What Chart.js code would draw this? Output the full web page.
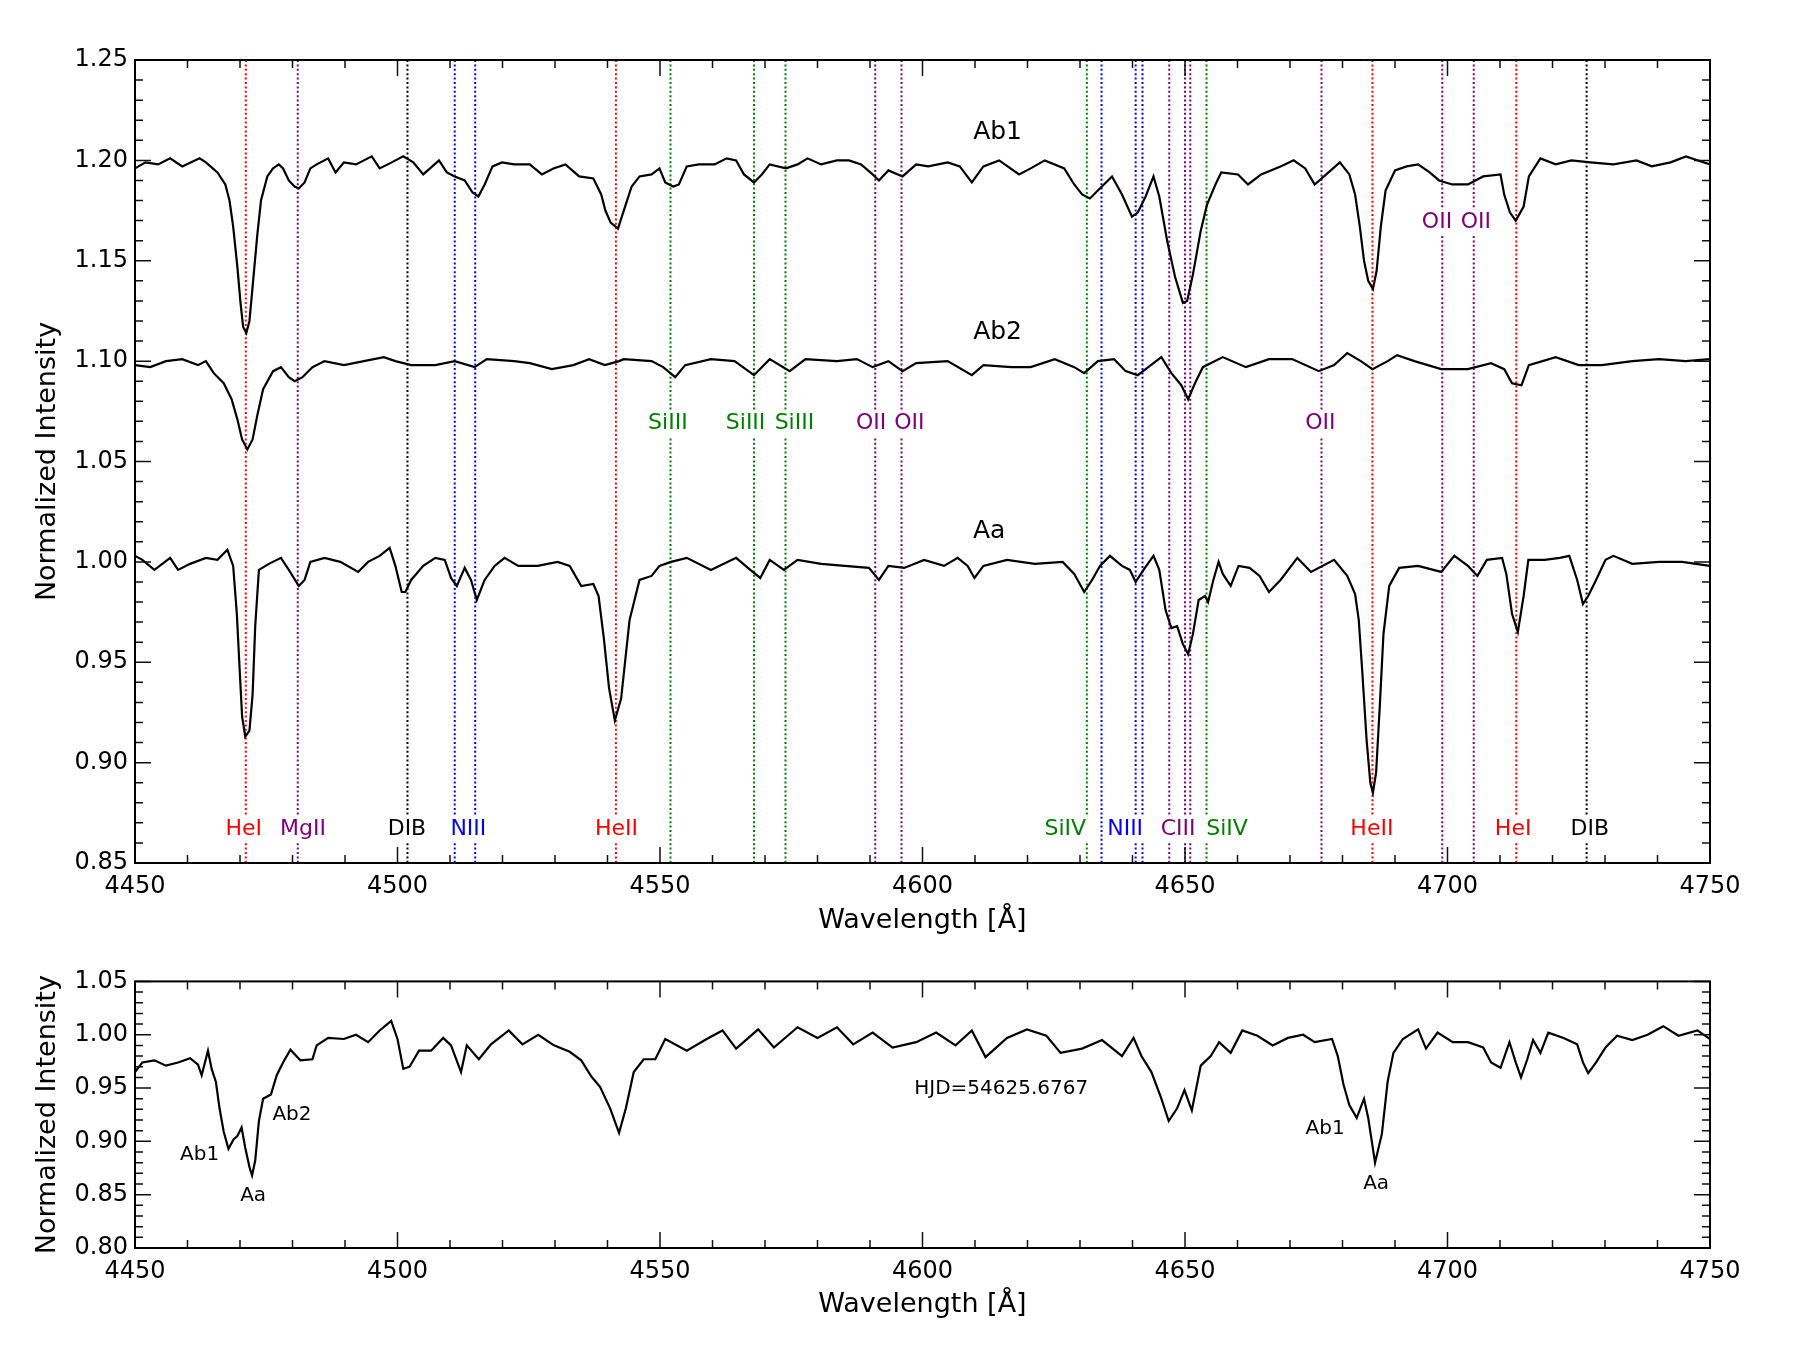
<!DOCTYPE html>
<html>
<head>
<meta charset="utf-8">
<title>Espectros</title>
<script src="https://cdn.jsdelivr.net/npm/chart.js@4.4.0/dist/chart.umd.min.js"></script>
<style>
  body { margin: 0; background: #fff; }
  #contenedor { position: relative; width: 1800px; height: 1350px; }
  canvas { position: absolute; left: 0; }
  #graficoSup { top: 0; }
  #graficoInf { top: 960px; }
</style>
</head>
<body>
<div id="contenedor">
  <canvas id="graficoSup" width="1800" height="960"></canvas>
  <canvas id="graficoInf" width="1800" height="390"></canvas>
</div>
<script>
// Espectro Ab1 (desplazado +0.2)
var ab1Wave = [4450.0, 4452.0, 4454.4, 4456.7, 4459.0, 4462.3, 4463.5, 4465.7, 4467.2, 4468.0, 4468.7, 4469.5, 4470.1, 4470.6, 4471.2, 4471.8, 4472.5, 4473.3, 4474.0, 4475.2,
  4476.3, 4477.4, 4478.2, 4479.3, 4480.4, 4481.2, 4482.3, 4483.4, 4484.6, 4486.8, 4488.2, 4489.8, 4492.1, 4495.1, 4496.6, 4498.9, 4501.1, 4503.0, 4504.9, 4507.9,
  4509.4, 4510.9, 4512.8, 4514.3, 4515.4, 4516.6, 4518.1, 4519.9, 4522.2, 4525.2, 4527.5, 4529.7, 4532.0, 4534.6, 4537.3, 4538.8, 4539.6, 4540.6, 4542.0, 4543.1,
  4544.6, 4546.1, 4548.4, 4549.9, 4551.0, 4552.5, 4553.6, 4555.1, 4557.4, 4560.4, 4562.7, 4564.5, 4566.0, 4567.9, 4569.4, 4570.9, 4574.0, 4576.2, 4578.1, 4580.7,
  4583.7, 4586.0, 4588.3, 4590.5, 4591.7, 4593.5, 4596.2, 4598.8, 4601.1, 4604.8, 4607.1, 4609.4, 4611.6, 4614.6, 4618.4, 4620.6, 4623.3, 4627.0, 4628.9, 4630.4,
  4631.9, 4633.4, 4636.1, 4638.0, 4639.9, 4641.0, 4642.5, 4644.0, 4645.1, 4646.6, 4648.1, 4649.6, 4650.4, 4651.5, 4653.0, 4654.2, 4655.8, 4656.9, 4660.1, 4662.0,
  4664.5, 4668.2, 4670.7, 4672.9, 4674.7, 4676.9, 4679.5, 4681.3, 4682.4, 4683.3, 4684.1, 4684.9, 4685.8, 4686.5, 4687.3, 4688.2, 4690.0, 4692.2, 4694.4, 4696.6,
  4698.4, 4700.9, 4703.9, 4706.8, 4710.1, 4710.8, 4711.9, 4713.0, 4714.5, 4715.5, 4717.7, 4720.6, 4723.6, 4727.2, 4731.6, 4736.0, 4738.9, 4742.5, 4745.4, 4750.0];
var ab1Flux = [1.196, 1.199, 1.198, 1.201, 1.197, 1.201, 1.199, 1.194, 1.188, 1.180, 1.167, 1.147, 1.129, 1.117, 1.114, 1.120, 1.140, 1.163, 1.180, 1.192,
  1.196, 1.198, 1.196, 1.190, 1.187, 1.186, 1.189, 1.196, 1.198, 1.201, 1.194, 1.199, 1.198, 1.202, 1.196, 1.199, 1.202, 1.199, 1.193, 1.200,
  1.194, 1.192, 1.190, 1.184, 1.182, 1.188, 1.197, 1.199, 1.198, 1.198, 1.193, 1.196, 1.198, 1.192, 1.191, 1.183, 1.175, 1.169, 1.166, 1.175,
  1.187, 1.192, 1.193, 1.196, 1.189, 1.187, 1.188, 1.197, 1.198, 1.198, 1.201, 1.200, 1.193, 1.189, 1.193, 1.198, 1.196, 1.198, 1.201, 1.198,
  1.200, 1.200, 1.198, 1.193, 1.190, 1.195, 1.192, 1.198, 1.197, 1.199, 1.197, 1.189, 1.197, 1.200, 1.193, 1.196, 1.200, 1.196, 1.188, 1.183,
  1.181, 1.185, 1.192, 1.183, 1.172, 1.174, 1.182, 1.192, 1.182, 1.160, 1.142, 1.129, 1.130, 1.143, 1.165, 1.178, 1.188, 1.194, 1.193, 1.188,
  1.193, 1.197, 1.200, 1.196, 1.188, 1.193, 1.199, 1.193, 1.183, 1.167, 1.150, 1.140, 1.136, 1.145, 1.167, 1.185, 1.195, 1.197, 1.198, 1.194,
  1.190, 1.188, 1.188, 1.192, 1.193, 1.183, 1.174, 1.170, 1.177, 1.192, 1.201, 1.198, 1.200, 1.199, 1.198, 1.200, 1.197, 1.199, 1.202, 1.198];

// Espectro Ab2 (desplazado +0.1)
var ab2Wave = [4450.0, 4452.9, 4455.9, 4459.0, 4462.0, 4463.5, 4465.0, 4466.9, 4468.4, 4469.5, 4470.4, 4471.4, 4472.4, 4473.3, 4474.4, 4476.3, 4477.8, 4479.3, 4480.4, 4481.9,
  4483.8, 4486.1, 4489.8, 4493.6, 4497.4, 4499.6, 4502.6, 4507.2, 4510.9, 4514.7, 4517.0, 4522.2, 4525.2, 4529.4, 4533.5, 4536.5, 4539.5, 4542.2, 4543.1, 4548.4,
  4550.6, 4552.9, 4554.8, 4559.7, 4564.2, 4567.9, 4570.9, 4574.7, 4577.7, 4583.7, 4587.5, 4590.5, 4593.5, 4596.2, 4598.8, 4604.8, 4609.4, 4611.6, 4616.9, 4620.6,
  4625.2, 4628.9, 4630.8, 4633.4, 4636.5, 4638.7, 4641.0, 4642.5, 4645.5, 4647.4, 4649.3, 4650.6, 4651.9, 4653.4, 4657.2, 4661.6, 4666.0, 4670.4, 4675.5, 4678.4,
  4680.9, 4683.5, 4685.7, 4688.6, 4690.4, 4693.7, 4698.8, 4703.9, 4708.3, 4710.8, 4712.3, 4714.1, 4715.5, 4720.6, 4725.0, 4729.4, 4735.2, 4740.3, 4745.4, 4750.0];
var ab2Flux = [1.098, 1.097, 1.100, 1.101, 1.098, 1.100, 1.094, 1.089, 1.081, 1.071, 1.061, 1.056, 1.061, 1.073, 1.086, 1.095, 1.097, 1.092, 1.090, 1.092,
  1.097, 1.100, 1.098, 1.100, 1.102, 1.100, 1.098, 1.098, 1.100, 1.097, 1.101, 1.100, 1.099, 1.096, 1.098, 1.101, 1.098, 1.100, 1.101, 1.100,
  1.097, 1.092, 1.098, 1.101, 1.100, 1.093, 1.101, 1.095, 1.101, 1.100, 1.101, 1.097, 1.100, 1.095, 1.099, 1.100, 1.093, 1.098, 1.097, 1.097,
  1.101, 1.097, 1.094, 1.100, 1.101, 1.095, 1.093, 1.096, 1.102, 1.094, 1.088, 1.081, 1.089, 1.097, 1.102, 1.097, 1.101, 1.101, 1.095, 1.098,
  1.104, 1.100, 1.096, 1.100, 1.103, 1.100, 1.096, 1.096, 1.099, 1.096, 1.089, 1.088, 1.098, 1.102, 1.098, 1.098, 1.100, 1.101, 1.100, 1.101];

// Espectro Aa
var aaWave = [4450.0, 4451.4, 4453.7, 4456.7, 4458.2, 4460.5, 4463.5, 4465.7, 4467.6, 4468.7, 4469.4, 4469.9, 4470.4, 4471.0, 4471.8, 4472.4, 4472.9, 4473.6, 4475.5, 4477.8,
  4479.3, 4481.2, 4482.3, 4483.4, 4486.1, 4489.1, 4492.5, 4494.4, 4496.6, 4498.5, 4499.6, 4500.8, 4501.5, 4502.6, 4504.9, 4507.2, 4509.0, 4510.2, 4511.3, 4512.8,
  4514.0, 4515.1, 4516.6, 4518.5, 4520.4, 4523.0, 4526.7, 4530.5, 4532.8, 4535.0, 4537.3, 4538.3, 4539.3, 4540.3, 4541.4, 4542.6, 4544.2, 4546.1, 4548.4, 4549.9,
  4552.1, 4555.1, 4559.7, 4564.5, 4567.2, 4569.1, 4570.9, 4573.6, 4576.2, 4580.7, 4585.2, 4589.8, 4591.7, 4593.5, 4596.5, 4600.3, 4604.1, 4606.7, 4608.6, 4609.9,
  4611.6, 4616.1, 4621.4, 4626.7, 4628.9, 4630.8, 4632.3, 4633.8, 4635.7, 4638.0, 4639.5, 4640.6, 4642.1, 4644.0, 4645.1, 4646.3, 4647.4, 4648.5, 4649.6, 4650.6,
  4651.5, 4652.6, 4653.8, 4654.4, 4655.4, 4656.4, 4657.2, 4658.7, 4660.2, 4662.3, 4664.2, 4666.0, 4668.2, 4671.4, 4674.0, 4678.4, 4680.9, 4682.4, 4683.1, 4683.8,
  4684.6, 4685.3, 4685.8, 4686.4, 4687.1, 4687.8, 4688.9, 4690.8, 4694.4, 4698.8, 4701.3, 4703.9, 4705.7, 4707.5, 4710.4, 4711.2, 4712.3, 4713.4, 4714.5, 4715.4,
  4718.5, 4721.4, 4723.2, 4724.7, 4725.8, 4726.8, 4728.3, 4730.1, 4731.6, 4735.2, 4740.3, 4744.7, 4750.0];
var aaFlux = [1.003, 1.001, 0.996, 1.002, 0.996, 0.999, 1.002, 1.001, 1.006, 0.998, 0.974, 0.948, 0.923, 0.913, 0.916, 0.934, 0.968, 0.996, 0.999, 1.002,
  0.996, 0.988, 0.991, 1.000, 1.002, 1.000, 0.995, 1.000, 1.003, 1.007, 0.998, 0.985, 0.985, 0.991, 0.998, 1.002, 1.001, 0.992, 0.988, 0.997,
  0.991, 0.981, 0.991, 0.998, 1.002, 0.998, 0.998, 1.000, 0.998, 0.988, 0.989, 0.983, 0.962, 0.937, 0.921, 0.932, 0.971, 0.991, 0.993, 0.998,
  1.000, 1.002, 0.996, 1.002, 0.996, 0.992, 1.001, 0.996, 1.001, 0.999, 0.998, 0.997, 0.991, 0.998, 0.997, 1.001, 0.998, 1.002, 0.998, 0.992,
  0.998, 1.001, 0.999, 1.000, 0.994, 0.985, 0.991, 0.998, 1.003, 0.998, 0.996, 0.990, 0.996, 1.003, 0.996, 0.976, 0.967, 0.968, 0.959, 0.954,
  0.964, 0.981, 0.983, 0.980, 0.991, 1.000, 0.994, 0.988, 0.998, 0.997, 0.993, 0.985, 0.991, 1.002, 0.995, 1.001, 0.993, 0.984, 0.971, 0.944,
  0.911, 0.890, 0.885, 0.895, 0.928, 0.964, 0.988, 0.997, 0.998, 0.995, 1.003, 0.998, 0.993, 1.001, 1.002, 0.994, 0.974, 0.965, 0.983, 1.001,
  1.001, 1.002, 1.003, 0.991, 0.979, 0.983, 0.991, 1.001, 1.003, 0.999, 1.000, 1.000, 0.998];

// Espectro observado HJD=54625.6767 (panel inferior)
var obsWave = [4450.0, 4451.4, 4453.7, 4455.9, 4458.2, 4460.5, 4462.0, 4462.7, 4463.9, 4464.6, 4465.4, 4466.1, 4466.9, 4467.8, 4468.8, 4469.5, 4470.3, 4471.0, 4471.8, 4472.3,
  4472.9, 4473.6, 4474.4, 4475.9, 4477.0, 4478.2, 4479.6, 4481.5, 4483.8, 4484.6, 4486.8, 4489.8, 4492.1, 4494.4, 4496.6, 4498.8, 4500.0, 4501.1, 4502.3, 4504.1,
  4506.4, 4508.7, 4510.2, 4512.1, 4513.2, 4515.5, 4517.8, 4521.2, 4523.8, 4526.8, 4529.8, 4532.8, 4535.0, 4536.9, 4538.6, 4540.5, 4542.2, 4543.5, 4545.0, 4546.9,
  4549.1, 4551.0, 4555.1, 4558.9, 4561.9, 4564.5, 4568.7, 4571.7, 4576.2, 4580.0, 4583.7, 4586.8, 4590.5, 4594.3, 4598.8, 4602.6, 4606.3, 4609.4, 4612.0, 4616.1,
  4619.9, 4623.6, 4626.3, 4630.4, 4634.2, 4638.0, 4640.2, 4641.7, 4643.6, 4645.5, 4646.9, 4648.5, 4649.9, 4651.3, 4653.0, 4654.9, 4656.5, 4658.7, 4660.9, 4663.8,
  4666.7, 4669.6, 4672.5, 4674.7, 4678.0, 4679.1, 4680.2, 4681.3, 4682.7, 4684.1, 4684.9, 4686.2, 4687.5, 4688.6, 4689.7, 4691.5, 4694.4, 4695.9, 4698.1, 4701.0,
  4703.9, 4706.8, 4708.3, 4710.1, 4711.8, 4713.0, 4714.0, 4715.2, 4716.3, 4717.7, 4719.2, 4722.1, 4724.7, 4725.8, 4726.8, 4728.3, 4730.1, 4732.3, 4735.2, 4738.1,
  4741.1, 4744.0, 4747.6, 4750.0];
var obsFlux = [0.965, 0.974, 0.976, 0.971, 0.974, 0.978, 0.972, 0.962, 0.985, 0.968, 0.956, 0.931, 0.909, 0.893, 0.902, 0.905, 0.913, 0.894, 0.876, 0.868,
  0.882, 0.919, 0.940, 0.944, 0.962, 0.974, 0.986, 0.976, 0.977, 0.990, 0.997, 0.996, 1.000, 0.993, 1.004, 1.013, 0.996, 0.968, 0.970, 0.985,
  0.985, 0.997, 0.990, 0.965, 0.990, 0.977, 0.991, 1.004, 0.991, 1.000, 0.990, 0.984, 0.976, 0.961, 0.951, 0.931, 0.908, 0.931, 0.965, 0.977,
  0.977, 0.996, 0.985, 0.996, 1.004, 0.987, 1.005, 0.988, 1.007, 0.997, 1.007, 0.991, 1.002, 0.988, 0.993, 1.002, 0.990, 1.004, 0.979, 0.997,
  1.005, 0.999, 0.983, 0.987, 0.995, 0.980, 0.997, 0.980, 0.965, 0.940, 0.919, 0.931, 0.948, 0.929, 0.971, 0.980, 0.993, 0.983, 1.004, 0.999,
  0.990, 0.997, 1.000, 0.993, 0.996, 0.980, 0.953, 0.934, 0.922, 0.940, 0.922, 0.880, 0.907, 0.956, 0.983, 0.996, 1.005, 0.987, 1.002, 0.993,
  0.993, 0.988, 0.974, 0.969, 0.993, 0.974, 0.960, 0.977, 0.995, 0.983, 1.002, 0.997, 0.991, 0.974, 0.964, 0.974, 0.988, 0.999, 0.995, 1.000,
  1.008, 0.999, 1.004, 0.996];

// Lineas identificadas (longitud de onda e ion)
var lineWave = [4471.1, 4481.0, 4501.9, 4510.9, 4514.8, 4541.6, 4552.0, 4567.9, 4573.9, 4591.0, 4596.0, 4631.3, 4634.1,
  4640.6, 4641.9, 4647.0, 4650.0, 4651.0, 4654.1, 4676.0, 4685.7, 4699.0, 4705.0, 4713.1, 4726.5];
var lineIon = ["HeI", "MgII", "DIB", "NIII", "NIII", "HeII", "SiIII", "SiIII", "SiIII", "OII", "OII", "SiIV", "NIII",
  "NIII", "NIII", "CIII", "CIII", "CIII", "SiIV", "OII", "HeII", "OII", "OII", "HeI", "DIB"];

// Etiquetas de las lineas
var labelText = ["HeI", "MgII", "DIB", "NIII", "HeII", "SiIV", "NIII", "CIII", "SiIV", "HeII", "HeI", "DIB",
  "SiIII", "SiIII", "SiIII", "OII", "OII", "OII", "OII", "OII"];
var labelWave = [4470.7, 4482.0, 4501.8, 4513.5, 4541.7, 4627.2, 4638.6, 4648.7, 4658.0, 4685.6, 4712.5, 4727.1,
  4551.5, 4566.3, 4575.6, 4590.2, 4597.5, 4675.8, 4698.0, 4705.4];
var labelFlux = [0.867, 0.867, 0.867, 0.867, 0.867, 0.867, 0.867, 0.867, 0.867, 0.867, 0.867, 0.867,
  1.069, 1.069, 1.069, 1.069, 1.069, 1.069, 1.169, 1.169];

// Nombres de las componentes
var compText = ["Ab1", "Ab2", "Aa"];
var compWave = [4614.3, 4614.3, 4612.7];
var compFlux = [1.214, 1.1145, 1.015];

// Anotaciones del panel inferior
var noteText = ["HJD=54625.6767", "Ab1", "Aa", "Ab2", "Ab1", "Aa"];
var noteWave = [4615.0, 4462.3, 4472.5, 4479.9, 4676.7, 4686.4];
var noteFlux = [0.949, 0.887, 0.849, 0.9245, 0.912, 0.8605];

var ionColor = {
  HeI: "#ff0000", HeII: "#ff0000", MgII: "#800080", OII: "#800080", CIII: "#800080",
  NIII: "#0000ff", SiIII: "#008000", SiIV: "#008000", DIB: "#000000"
};

Chart.defaults.font.family = "'DejaVu Sans', sans-serif";
Chart.defaults.color = "#000";

function puntos(w, f) {
  var p = [];
  for (var i = 0; i < w.length; i++) p.push({ x: w[i], y: f[i] });
  return p;
}

function serie(w, f) {
  return {
    data: puntos(w, f),
    borderColor: "#000",
    borderWidth: 2.2,
    pointRadius: 0,
    tension: 0,
    fill: false
  };
}

function escalas(yMin, yMax, anchoY, altoX) {
  return {
    x: {
      type: "linear", min: 4450, max: 4750,
      grid: { display: false, drawTicks: false },
      border: { display: false },
      ticks: {
        stepSize: 50, padding: 9, maxRotation: 0, autoSkip: false,
        font: { size: 24 }, color: "#000",
        callback: function(v) { return String(v); }
      },
      title: { display: true, text: "Wavelength [Å]", font: { size: 27 }, color: "#000" },
      afterFit: function(s) { s.height = altoX; }
    },
    y: {
      min: yMin, max: yMax,
      grid: { display: false, drawTicks: false },
      border: { display: false },
      ticks: {
        stepSize: 0.05, padding: 7,
        font: { size: 24 }, color: "#000",
        callback: function(v) { return Number(v).toFixed(2); }
      },
      title: { display: true, text: "Normalized Intensity", font: { size: 27 }, color: "#000" },
      afterFit: function(s) { s.width = anchoY; }
    }
  };
}

function texto(ctx, t, px, py, color, size, fondo) {
  ctx.font = size + "px 'DejaVu Sans'";
  ctx.textAlign = "center";
  ctx.textBaseline = "middle";
  if (fondo) {
    var w = ctx.measureText(t).width;
    ctx.fillStyle = "#fff";
    ctx.fillRect(px - w / 2 - 3, py - size * 0.6, w + 6, size * 1.2);
  }
  ctx.fillStyle = color;
  ctx.fillText(t, px, py);
}

// Plugin: lineas punteadas, etiquetas, marco y ticks hacia adentro
var decoracion = {
  id: "decoracion",
  beforeDatasetsDraw: function(chart, args, opts) {
    var ctx = chart.ctx, area = chart.chartArea;
    var sx = chart.scales.x, sy = chart.scales.y;
    ctx.save();
    if (opts.lineas) {
      ctx.lineWidth = 2;
      ctx.setLineDash([2, 2.4]);
      for (var i = 0; i < lineWave.length; i++) {
        var px = sx.getPixelForValue(lineWave[i]);
        ctx.strokeStyle = ionColor[lineIon[i]];
        ctx.beginPath();
        ctx.moveTo(px, area.top);
        ctx.lineTo(px, area.bottom);
        ctx.stroke();
      }
      ctx.setLineDash([]);
      for (var j = 0; j < labelText.length; j++) {
        texto(ctx, labelText[j], sx.getPixelForValue(labelWave[j]), sy.getPixelForValue(labelFlux[j]),
          ionColor[labelText[j]], 22, true);
      }
      for (var k = 0; k < compText.length; k++) {
        texto(ctx, compText[k], sx.getPixelForValue(compWave[k]), sy.getPixelForValue(compFlux[k]), "#000", 25, false);
      }
    }
    if (opts.notas) {
      for (var n = 0; n < noteText.length; n++) {
        texto(ctx, noteText[n], sx.getPixelForValue(noteWave[n]), sy.getPixelForValue(noteFlux[n]), "#000", 20, false);
      }
    }
    ctx.restore();
  },
  afterDatasetsDraw: function(chart) {
    var ctx = chart.ctx, area = chart.chartArea;
    var sx = chart.scales.x, sy = chart.scales.y;
    ctx.save();
    ctx.strokeStyle = "#111";
    ctx.lineWidth = 1.5;
    ctx.beginPath();
    for (var v = sx.min; v <= sx.max; v += 10) {
      var px = sx.getPixelForValue(v);
      var lx = (v % 50 === 0) ? 16 : 8;
      ctx.moveTo(px, area.bottom); ctx.lineTo(px, area.bottom - lx);
      ctx.moveTo(px, area.top); ctx.lineTo(px, area.top + lx);
    }
    for (var i = Math.round(sy.min * 100); i <= Math.round(sy.max * 100); i++) {
      var py = sy.getPixelForValue(i / 100);
      var ly = (i % 5 === 0) ? 16 : 8;
      ctx.moveTo(area.left, py); ctx.lineTo(area.left + ly, py);
      ctx.moveTo(area.right, py); ctx.lineTo(area.right - ly, py);
    }
    ctx.stroke();
    // marco
    ctx.strokeStyle = "#000";
    ctx.lineWidth = 2;
    ctx.strokeRect(area.left, area.top, area.right - area.left, area.bottom - area.top);
    ctx.restore();
  }
};

document.addEventListener("DOMContentLoaded", function() {
  new Chart(document.getElementById("graficoSup"), {
    type: "line",
    data: { datasets: [serie(ab1Wave, ab1Flux), serie(ab2Wave, ab2Flux), serie(aaWave, aaFlux)] },
    options: {
      responsive: false, animation: false, devicePixelRatio: 1,
      layout: { padding: { left: 28, right: 90, top: 60, bottom: 19 } },
      plugins: { legend: { display: false }, tooltip: { enabled: false }, decoracion: { lineas: true } },
      scales: escalas(0.85, 1.25, 107, 78)
    },
    plugins: [decoracion]
  });

  new Chart(document.getElementById("graficoInf"), {
    type: "line",
    data: { datasets: [serie(obsWave, obsFlux)] },
    options: {
      responsive: false, animation: false, devicePixelRatio: 1,
      layout: { padding: { left: 28, right: 90, top: 18, bottom: 25 } },
      plugins: { legend: { display: false }, tooltip: { enabled: false }, decoracion: { notas: true } },
      scales: escalas(0.80, 1.05, 107, 77)
    },
    plugins: [decoracion]
  });
});
</script>
</body>
</html>
